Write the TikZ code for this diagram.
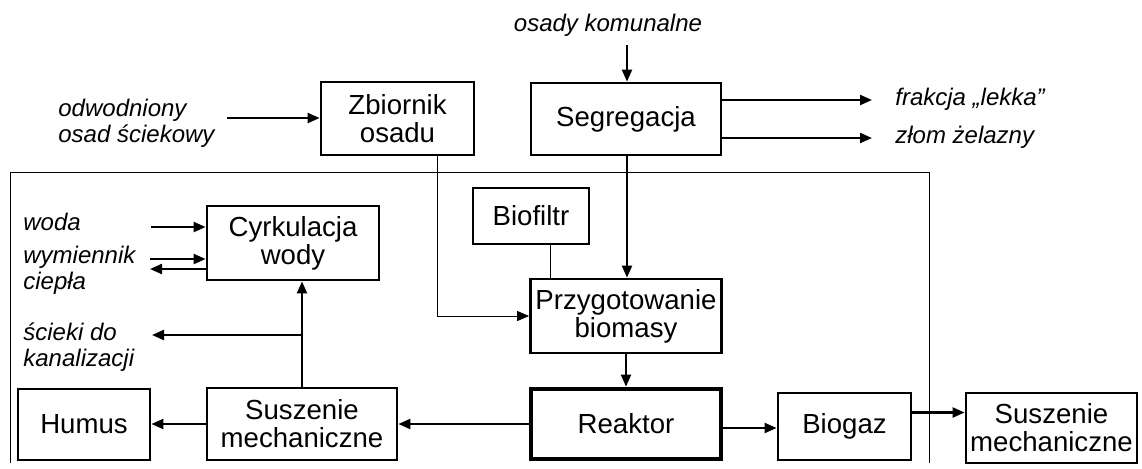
\documentclass[tikz,border=0pt]{standalone}
\usepackage{fontspec}
\setmainfont{Liberation Sans}
\usetikzlibrary{arrows.meta,positioning,calc}
\tikzset{
  blok/.style={draw, line width=1.4pt, align=center, inner sep=1pt,
    font=\fontsize{13.8}{14}\selectfont},
  opis/.style={align=left, anchor=west, inner sep=0pt,
    font=\fontsize{12}{12.8}\selectfont\itshape},
  strz/.style={line width=1.1pt, -{Triangle[length=6pt,width=5pt]}},
  cienka/.style={line width=0.5pt},
}

\begin{document}
\begin{tikzpicture}[x=0.5pt, y=-0.5pt]
    \useasboundingbox (0,0) rectangle (1142,468);
    % Frame of the plant (open at the bottom)
    \draw[cienka] (10,463) -- (10,172) -- (929,172) -- (929,463);
    % Boxes
    \node[blok, minimum width=76.5pt, minimum height=36.5pt] (zbior) at (397.5,118.5) {Zbiornik\\osadu};
    \node[blok, minimum width=95pt, minimum height=36pt] (segr) at (626,119) {Segregacja};
    \node[blok, minimum width=58pt, minimum height=28pt] (biof) at (531,216) {Biofiltr};
    \node[blok, minimum width=95.5pt, minimum height=37pt] (przyg) at (626,316) {Przygotowanie\\biomasy};
    \node[blok, line width=2.4pt, minimum width=95pt, minimum height=35pt] (reakt) at (626,424) {Reaktor};
    \node[blok, minimum width=66.5pt, minimum height=33.5pt] (biogaz) at (844.5,426.5) {Biogaz};
    \node[blok, minimum width=85.5pt, minimum height=35pt] (suszP) at (1051.5,428) {Suszenie\\mechaniczne};
    \node[blok, minimum width=86pt, minimum height=37pt] (cyrk) at (293,243) {Cyrkulacja\\wody};
    \node[blok, minimum width=95pt, minimum height=36pt] (suszL) at (302,424) {Suszenie\\mechaniczne};
    \node[blok, minimum width=66pt, minimum height=35.5pt] (humus) at (84,424.5) {Humus};
    % Labels
    \node[opis, anchor=center] (osady) at (608,25) {osady komunalne};
    \node[opis] (odw) at (58,123) {odwodniony\\osad ściekowy};
    \node[opis] (frak) at (895,99) {frakcja „lekka”};
    \node[opis] (zlom) at (895,137) {złom żelazny};
    \node[opis] (woda) at (23,222) {woda};
    \node[opis] (wym) at (23,270) {wymiennik\\ciepła};
    \node[opis] (scieki) at (23,347) {ścieki do\\kanalizacji};
    % Free ends of the connectors
    \coordinate (osadyK) at (627,45);
    \coordinate (odwK) at (227,118);
    \coordinate (frakK) at (872,100);
    \coordinate (zlomK) at (872,138);
    \coordinate (wodaK) at (151,227);
    \coordinate (wymK) at (150,259);
    \coordinate (cieplK) at (150,269);
    \coordinate (sciekK) at (152,335);
    \coordinate (rozg) at (302,335);
    % Inputs and outputs
    \draw[strz] (osadyK) -- (osadyK |- segr.north);
    \draw[strz] (odwK) -- (odwK -| zbior.west);
    \draw[strz] (frakK -| segr.east) -- (frakK);
    \draw[strz] (zlomK -| segr.east) -- (zlomK);
    \draw[strz] (wodaK) -- (wodaK -| cyrk.west);
    \draw[strz] (wymK) -- (wymK -| cyrk.west);
    \draw[strz] (cieplK -| cyrk.west) -- (cieplK);
    % Main line
    \draw[cienka, -{Triangle[length=6pt,width=5pt]}] ([xshift=19.75pt]zbior.south) |- (przyg.west);
    \draw[cienka] ([xshift=9.5pt]biof.south) -- ([xshift=9.5pt]biof.south |- przyg.north);
    \draw[strz] ([xshift=0.5pt]segr.south) -- ([xshift=0.5pt]segr.south |- przyg.north);
    \draw[strz] (przyg.south) -- (reakt.north);
    \draw[strz] (reakt.west) -- (suszL.east);
    \draw[strz] ([yshift=-2pt]reakt.east) -- ([yshift=-2pt]reakt.east -| biogaz.west);
    \draw[strz] ([yshift=7pt]biogaz.east) -- ([yshift=7pt]biogaz.east -| suszP.west);
    \draw[strz] (suszL.west) -- (suszL.west -| humus.east);
    \draw[strz] (suszL.north) -- (suszL.north |- cyrk.south);
    \draw[strz] (rozg) -- (sciekK);
\end{tikzpicture}
\end{document}
